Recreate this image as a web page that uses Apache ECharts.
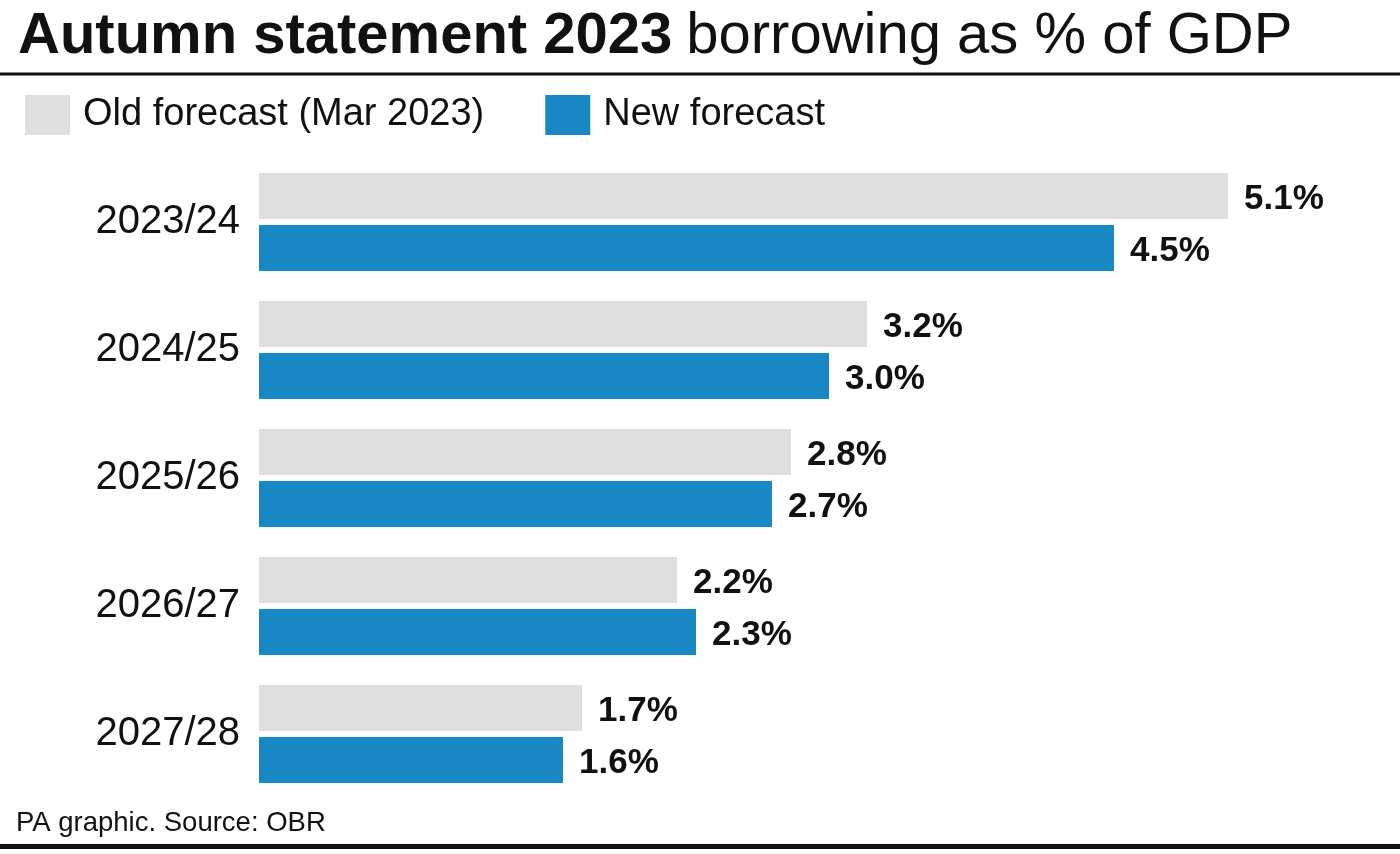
<!DOCTYPE html>
<html>
<head>
<meta charset="utf-8">
<script src="https://cdn.jsdelivr.net/npm/echarts@6/dist/echarts.min.js"></script>
<style>
html,body{margin:0;padding:0;background:#fff;}
#chart{width:1400px;height:854px;}
</style>
</head>
<body>
<div id="chart"></div>
<script>
var categories = ['2023/24', '2024/25', '2025/26', '2026/27', '2027/28'];
var oldForecast = [5.1, 3.2, 2.8, 2.2, 1.7];
var newForecast = [4.5, 3.0, 2.7, 2.3, 1.6];
var seriesNames = ['Old forecast (Mar 2023)', 'New forecast'];
var titleBold = 'Autumn statement 2023';
var titleRegular = 'borrowing as % of GDP';
var sourceText = 'PA graphic. Source: OBR';

var FONT = '"Liberation Sans", Arial, Helvetica, sans-serif';
var chart = echarts.init(document.getElementById('chart'), null, {renderer: 'canvas'});

function labelCfg() {
  return {
    show: true,
    position: 'right',
    distance: 16,
    offset: [0, 3],
    formatter: function (p) { return p.value.toFixed(1) + '%'; },
    fontFamily: FONT,
    fontWeight: 'bold',
    fontSize: 35,
    color: '#111'
  };
}

chart.setOption({
  backgroundColor: '#fff',
  animation: false,
  title: {
    left: 18,
    top: 8,
    padding: 0,
    text: '{b|' + titleBold + '}{r|' + titleRegular + '}',
    textStyle: {
      rich: {
        b: {fontFamily: FONT, fontWeight: 'bold', fontSize: 58, color: '#111'},
        r: {fontFamily: FONT, fontWeight: 'normal', fontSize: 58, color: '#111', padding: [0, 0, 0, 14]}
      }
    }
  },
  legend: {
    left: 25,
    top: 95,
    padding: 0,
    itemWidth: 45,
    itemHeight: 40,
    itemGap: 61,
    icon: 'rect',
    data: seriesNames,
    textStyle: {fontFamily: FONT, fontSize: 38, color: '#111', padding: [6, 0, 0, 8]}
  },
  grid: {left: 259, top: 158, width: 1140, height: 640, containLabel: false},
  xAxis: {
    type: 'value', min: 0, max: 6, show: false
  },
  yAxis: {
    type: 'category',
    data: categories,
    inverse: true,
    axisLine: {show: false},
    axisTick: {show: false},
    axisLabel: {fontFamily: FONT, fontSize: 40, color: '#111', margin: 19}
  },
  series: [
    {
      name: seriesNames[0], type: 'bar', data: oldForecast,
      barWidth: 46, barGap: '13%',
      itemStyle: {color: '#e0dfdf'},
      label: labelCfg()
    },
    {
      name: seriesNames[1], type: 'bar', data: newForecast,
      barWidth: 46, barGap: '13%',
      itemStyle: {color: '#1a87c5'},
      label: labelCfg()
    }
  ],
  graphic: [
    {type: 'line', shape: {x1: 0, y1: 74, x2: 1400, y2: 74}, style: {stroke: '#111', lineWidth: 3}},
    {type: 'line', shape: {x1: 0, y1: 846.5, x2: 1400, y2: 846.5}, style: {stroke: '#111', lineWidth: 5}},
    {type: 'text', left: 16, top: 809, style: {text: sourceText, font: '27.5px ' + FONT, fill: '#111'}}
  ]
});
</script>
</body>
</html>
